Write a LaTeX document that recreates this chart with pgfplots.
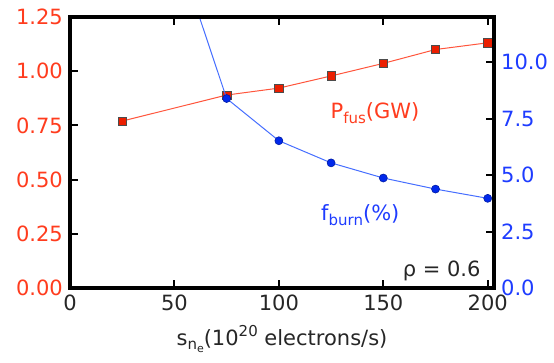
\documentclass[border=0pt]{standalone}
\usepackage{fontspec}
\setmainfont{DejaVu Sans}
\usepackage{pgfplots}
\pgfplotsset{compat=1.18}
\definecolor{rlab}{RGB}{255,60,30}
\definecolor{blab}{RGB}{30,60,255}
\definecolor{rline}{RGB}{255,85,60}
\definecolor{bline}{RGB}{70,110,255}
\definecolor{rfill}{RGB}{235,30,0}
\definecolor{bfill}{RGB}{0,40,235}
\newcommand{\fs}{\fontsize{21}{25}\selectfont}
\newcommand{\sub}[1]{\raisebox{-0.22em}{\fontsize{15}{15}\selectfont #1}}
\newcommand{\subsub}[1]{\raisebox{-0.18em}{\fontsize{11}{11}\selectfont #1}}
\newcommand{\sups}[1]{\raisebox{0.42em}{\fontsize{15}{15}\selectfont #1}}
\begin{document}
\fs
\begin{tikzpicture}
\useasboundingbox (-70pt,-75pt) rectangle (484pt,288pt);
\begin{axis}[
  scale only axis, width=424pt, height=271pt,
  xmin=0, xmax=203, ymin=0, ymax=1.25,
  xtick={0,50,100,150,200},
  ytick={0,0.25,0.5,0.75,1.0,1.25},
  xtick pos=both, xticklabel pos=lower, ytick pos=left,
  tick align=inside,
  major tick length=8pt,
  every tick/.style={black, line width=2pt},
  /pgf/number format/assume math mode=true,
  yticklabel style={/pgf/number format/fixed, /pgf/number format/fixed zerofill, /pgf/number format/precision=2, text=rlab, font=\fs},
  xticklabel style={font=\fs, text=black!85},
  xlabel={s\sub{n\subsub{e}}(10\sups{20} electrons/s)},
  xlabel style={font=\fs, text=black!85, yshift=0pt},
  clip=true,
]
\addplot[rline, line width=1pt, mark=square*, mark size=4.2pt, mark options={fill=rfill, draw=black!70, line width=0.6pt}] coordinates {
(25,0.770) (75,0.890) (100,0.922) (125,0.978) (150,1.036) (175,1.100) (200,1.131)
};
\node[text=rlab, font=\fs] at (axis cs:146,0.807) {P\sub{fus}(GW)};
\node[text=blab, font=\fs] at (axis cs:139,0.337) {f\sub{burn}(\%)};
\node[anchor=east, text=black!85, font=\fs] at (axis cs:200,0.078) {ρ = 0.6};
\end{axis}
\begin{axis}[
  scale only axis, width=424pt, height=271pt,
  xmin=0, xmax=203, ymin=0, ymax=12,
  axis x line=none,
  axis y line*=right,
  ytick={0,2.5,5,7.5,10},
  tick align=inside,
  major tick length=8pt,
  every tick/.style={black, line width=2pt},
  /pgf/number format/assume math mode=true,
  yticklabel style={/pgf/number format/fixed, /pgf/number format/fixed zerofill, /pgf/number format/precision=1, text=blab, font=\fs},
  clip=true,
]
\addplot[bline, line width=1pt, mark=*, mark size=4pt, mark options={fill=bfill, draw=bfill!70!black, line width=0.6pt}] coordinates {
(50,15.3) (75,8.39) (100,6.52) (125,5.54) (150,4.87) (175,4.38) (200,3.97)
};
\end{axis}
\draw[black, line width=4.2pt] (0pt,0pt) rectangle (424pt,271pt);
\end{tikzpicture}
\end{document}
